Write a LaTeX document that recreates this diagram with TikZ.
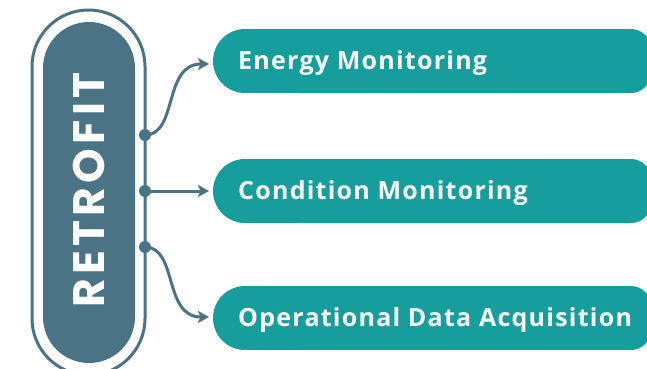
\documentclass[tikz,border=0pt]{standalone}
\usepackage{fontspec}
\setmainfont{Open Sans}
\newfontfamily\titlefont[LetterSpace=10]{Poppins Bold}
\newfontfamily\boxfont[LetterSpace=5]{Open Sans Bold}
\usetikzlibrary{arrows.meta}
\definecolor{slate}{RGB}{74,115,133}
\definecolor{teal}{RGB}{21,158,156}
\begin{document}
\begin{tikzpicture}[x=1pt,y=-1pt,
  conn/.style={draw=slate,line width=3pt,-{Stealth[length=11pt,width=12pt,inset=2.5pt]}},
  dotnode/.style={circle,fill=slate,inner sep=0pt,minimum size=12pt},
  itemtext/.style={text=white,font=\boxfont\fontsize{25}{29}\selectfont,anchor=west,inner sep=0pt}]
\useasboundingbox (0,0) rectangle (647,368);
% outer pill
\draw[slate,line width=3pt,rounded corners=56.5pt] (32,10) rectangle (145,375);
% inner pill
\fill[slate,rounded corners=46pt] (43,22) rectangle (135,363);
\node[rotate=90,text=white,font=\titlefont\fontsize{44}{48}\selectfont] (title) at (88.5,190) {RETROFIT};
% boxes
\foreach \n/\cy in {b1/61,b2/191,b3/318}{
  \fill[teal] (245,\cy) circle[radius=32pt];
  \fill[teal] (245,\cy-32) rectangle (300,\cy+32);
  \fill[teal,rounded corners=20pt] (280,\cy-32) rectangle (651,\cy+32);
}
\node[itemtext] (t1) at (238,62.5) {Energy Monitoring};
\node[itemtext] (t2) at (238,192.5) {Condition Monitoring};
\node[itemtext] (t3) at (238,319.5) {Operational Data Acquisition};
% dots
\node[dotnode] (d1) at (145,135) {};
\node[dotnode] (d2) at (145,191) {};
\node[dotnode] (d3) at (145,247) {};
\coordinate (a1) at (209,64);
\coordinate (a2) at (209,191);
\coordinate (a3) at (209,317);
\draw[conn] (d1.center) .. controls (178,135) and (163,64) .. (a1);
\draw[conn] (d2.center) -- (a2);
\draw[conn] (d3.center) .. controls (178,247) and (163,317) .. (a3);
\end{tikzpicture}
\end{document}
